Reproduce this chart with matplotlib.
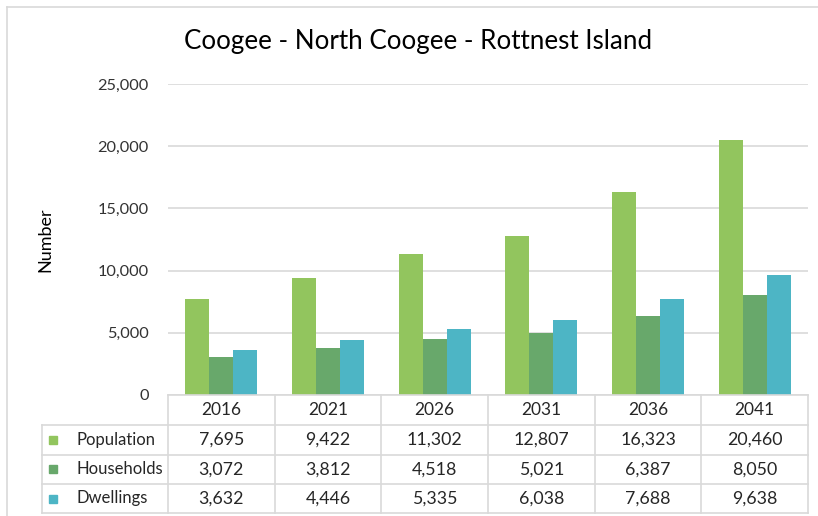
import matplotlib.pyplot as plt
import matplotlib.transforms as mtransforms
from matplotlib.lines import Line2D
from matplotlib.patches import Rectangle

plt.rcParams['font.family'] = ['Lato', 'DejaVu Sans']

years = ['2016', '2021', '2026', '2031', '2036', '2041']
population = [7695, 9422, 11302, 12807, 16323, 20460]
households = [3072, 3812, 4518, 5021, 6387, 8050]
dwellings = [3632, 4446, 5335, 6038, 7688, 9638]

series_names = ['Population', 'Households', 'Dwellings']
series_values = [population, households, dwellings]
colors = ['#92C55E', '#68A86B', '#4DB5C5']
grid_col = '#D9D9D9'
text_col = '#262626'

W, H = 818, 516
fig = plt.figure(figsize=(W / 100, H / 100), dpi=100)

# plot area in pixels: x 168..808, y 84..395
ax = fig.add_axes([168 / W, (H - 395) / H, 640 / W, 311 / H])

bw = 0.225
x = list(range(len(years)))
for i, (vals, c) in enumerate(zip(series_values, colors)):
    ax.bar([xi + (i - 1) * bw for xi in x], vals, width=bw, color=c, zorder=3)

ax.set_xlim(-0.5, len(years) - 0.5)
ax.set_ylim(0, 25000)
ax.set_yticks(range(0, 25001, 5000))
ax.set_yticklabels([f'{v:,}' for v in range(0, 25001, 5000)], fontsize=11.8, color='#333333')
ax.tick_params(axis='y', length=0, pad=14)
ax.set_xticks([])
ax.grid(axis='y', color=grid_col, linewidth=1.2, zorder=0)
for s in ax.spines.values():
    s.set_visible(False)

fig.text(418 / W, 1 - 42 / H, 'Coogee - North Coogee - Rottnest Island',
         ha='center', va='center', fontsize=18.7, color='#000000')
fig.text(45 / W, 1 - 240 / H, 'Number', rotation=90, ha='center', va='center',
         fontsize=13, color='#000000')

# data table below the plot area, in pixel coordinates
px = mtransforms.Affine2D().scale(1, -1).translate(0, H)
def hline(y, x0, x1):
    fig.add_artist(Line2D([x0, x1], [y, y], transform=px, color=grid_col, lw=1.2))
def vline(x, y0, y1):
    fig.add_artist(Line2D([x, x], [y0, y1], transform=px, color=grid_col, lw=1.2))

left, right = 168, 808
col_w = (right - left) / len(years)
rows = [395, 425, 454.5, 484, 513]
legend_x = 42

hline(rows[0], left, right)
for r in rows[1:]:
    hline(r, legend_x, right)
vline(legend_x, rows[1], rows[-1])
for k in range(len(years) + 1):
    vline(left + k * col_w, rows[0], rows[-1])

def cy(k):
    return (rows[k] + rows[k + 1]) / 2

for k, yr in enumerate(years):
    fig.text((left + (k + 0.5) * col_w) / W, 1 - cy(0) / H, yr,
             ha='center', va='center', fontsize=12.5, color=text_col)

for r, (name, vals, c) in enumerate(zip(series_names, series_values, colors)):
    yc = cy(r + 1)
    fig.add_artist(Rectangle((49, yc - 4), 8, 8, transform=px, color=c))
    fig.text(76 / W, 1 - yc / H, name, ha='left', va='center',
             fontsize=12, color=text_col)
    for k, v in enumerate(vals):
        fig.text((left + (k + 0.5) * col_w) / W, 1 - yc / H, f'{v:,}',
                 ha='center', va='center', fontsize=12.8, color=text_col)

# outer chart border
hline(7, 7, W)
vline(7, 7, H)

fig.savefig('out.png', dpi=100)
